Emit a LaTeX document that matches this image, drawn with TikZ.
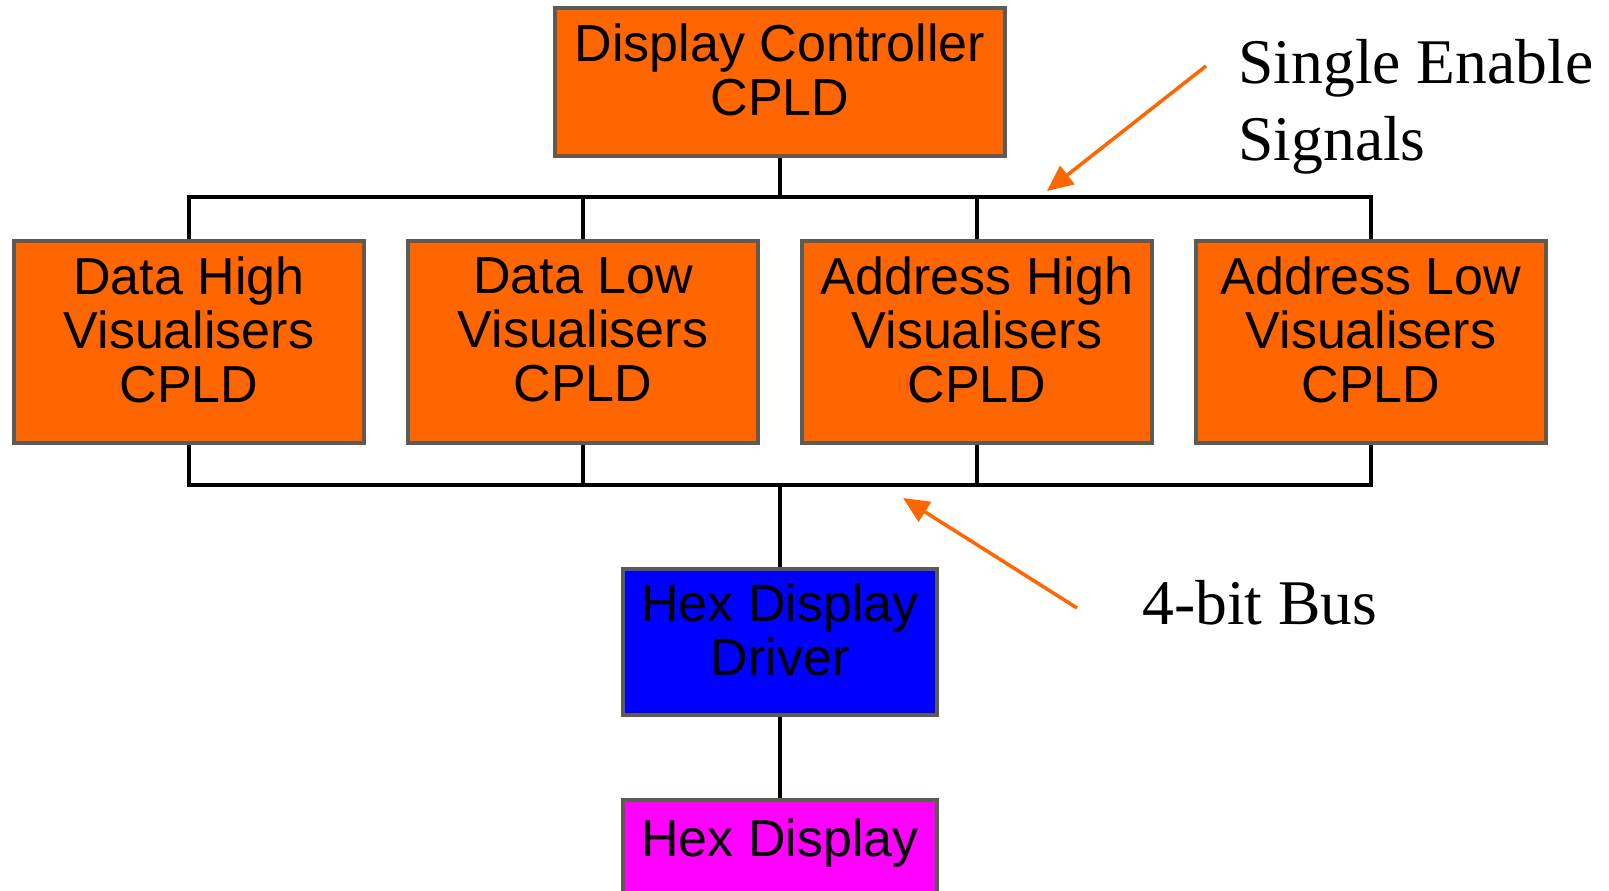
\documentclass[tikz,border=0pt]{standalone}
\usepackage{fontspec}
\setmainfont{Liberation Serif}
\setsansfont{Liberation Sans}
\usepackage{xcolor}
\usetikzlibrary{positioning,arrows.meta}

\definecolor{cpldorange}{HTML}{FF6600}
\definecolor{drvblue}{HTML}{0000FF}
\definecolor{hexmagenta}{HTML}{FF00FF}
\definecolor{boxedge}{HTML}{5F5A52}

\begin{document}
\begin{tikzpicture}[
    block/.style={draw=boxedge, line width=1.9pt, align=center, inner sep=0pt, text depth=0.48cm,
        font=\sffamily\fontsize{29.6}{30.7}\selectfont},
    cpld/.style={block, fill=cpldorange, minimum width=7cm, minimum height=4.04cm},
    bus/.style={line width=2pt, black},
    pointer/.style={line width=2pt, cpldorange, -{Triangle[length=0.52cm,width=0.46cm]}},
    note/.style={font=\fontsize{36.2}{43.8}\selectfont, inner sep=0pt}
    ]
        \useasboundingbox (0,0) rectangle (32.18,17.8);
        \begin{scope}
        \clip (0,0) rectangle (32.18,17.8);

        % Controller
        \node[block, fill=cpldorange, minimum width=9cm, minimum height=2.96cm] (ctrl) at (15.6,16.16) {Display Controller\\CPLD};

        % Visualiser row
        \node[cpld] (dh) at (3.78,10.96) {Data High\\Visualisers\\CPLD};
        \node[cpld] (dl) at (11.66,10.96) {Data Low\\Visualisers\\CPLD};
        \node[cpld] (ah) at (19.54,10.96) {Address High\\Visualisers\\CPLD};
        \node[cpld] (al) at (27.42,10.96) {Address Low\\Visualisers\\CPLD};

        % Driver and display
        \node[block, fill=drvblue, minimum width=6.28cm, minimum height=2.92cm] (drv) at (15.6,4.96) {Hex Display\\Driver};
        \node[block, fill=hexmagenta, minimum width=6.28cm, minimum height=2cm] (hex) at (15.6,0.8) {Hex Display};

        % Buses
        \coordinate (topbus) at (15.6,13.86);
        \coordinate (botbus) at (15.6,8.1);

        \draw[bus] (ctrl.south) -- (ctrl.south |- topbus);
        \draw[bus] (dh.north) -- (dh.north |- topbus) -- (al.north |- topbus) -- (al.north);
        \draw[bus] (dl.north) -- (dl.north |- topbus);
        \draw[bus] (ah.north) -- (ah.north |- topbus);

        \draw[bus] (dh.south) -- (dh.south |- botbus) -- (al.south |- botbus) -- (al.south);
        \draw[bus] (dl.south) -- (dl.south |- botbus);
        \draw[bus] (ah.south) -- (ah.south |- botbus);
        \draw[bus] (drv.north) -- (drv.north |- botbus);
        \draw[bus] (drv.south) -- (hex.north);

        % Notes
        \node[note, align=left, anchor=north west] (enable) at (24.76,17.02) {Single Enable\\Signals};
        \node[note, anchor=base west] (fourbit) at (22.84,5.32) {4-bit Bus};

        \coordinate (enableTail) at (24.12,16.48);
        \coordinate (enableTip) at (20.94,13.98);
        \coordinate (busTail) at (21.54,5.64);
        \coordinate (busTip) at (18.06,7.84);

        \draw[pointer] (enableTail) -- (enableTip);
        \draw[pointer] (busTail) -- (busTip);
        \end{scope}
    \end{tikzpicture}
\end{document}
